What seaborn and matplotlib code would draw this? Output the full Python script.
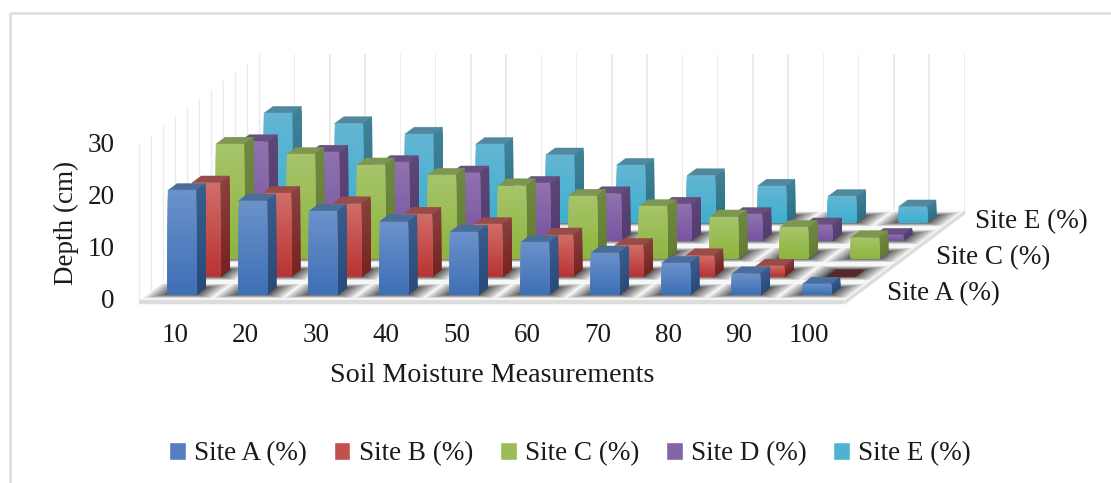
"""Soil moisture by site, Excel style 3D column chart drawn with mplot3d."""

import matplotlib
matplotlib.use("Agg")
import matplotlib.pyplot as plt
import numpy as np
import seaborn as sns
from matplotlib.lines import Line2D
from matplotlib.patches import Patch
from mpl_toolkits.mplot3d.art3d import Poly3DCollection

measurements = [10, 20, 30, 40, 50, 60, 70, 80, 90, 100]
site_names = ["Site A (%)", "Site B (%)", "Site C (%)", "Site D (%)", "Site E (%)"]
site_a = [20, 18, 16, 14, 12, 10, 8, 6, 4, 2]
site_b = [18, 16, 14, 12, 10, 8, 6, 4, 2, 0]
site_c = [22, 20, 18, 16, 14, 12, 10, 8, 6, 4]
site_d = [19, 17, 15, 13, 11, 9, 7, 5, 3, 1]
site_e = [21, 19, 17, 15, 13, 11, 9, 7, 5, 3]
depth_ticks = [0, 10, 20, 30]

# face colours per site: front (top, bottom), side (top, bottom), cap
FACE_COLORS = [
    ("#6b91ca", "#3e70b6", "#3a5c8c", "#284b7a", "#4a6e9c"),
    ("#d06c68", "#b93533", "#88403d", "#772422", "#984b48"),
    ("#a6c46a", "#8eb53e", "#6f8840", "#647d33", "#7d9651"),
    ("#8f72af", "#7955a0", "#5c4676", "#533c6e", "#674f82"),
    ("#63b5d3", "#3eafcf", "#3f8197", "#2d7187", "#50899f"),
]
FONT = "Liberation Serif"
TEXT = "#1a1a1a"
BAR_W = 0.2
BAR_D = 0.19
W, H = 1111, 483

sns.set_theme(style="white")
plt.rcParams["font.family"] = FONT

fig = plt.figure(figsize=(W / 100, H / 100), dpi=100)
ax = fig.add_axes([0, 0, 1, 1], projection="3d", computed_zorder=False)
ax.set_axis_off()

# oblique projection straight onto pixel coordinates, no perspective
# third row is only the paint order inside one collection
proj = np.array([
    [70.5, 24.0, 0.0, 186.7],
    [0.0, -18.0, -5.2, 291.0],
    [-0.01, 1.0, 0.01, 0.0],
    [0.0, 0.0, 0.0, 1.0],
])
ax.get_proj = lambda: proj
ax.apply_aspect = lambda position=None: None
ax.viewLim.intervalx = (0, W)
ax.viewLim.intervaly = (H, 0)


def add_polys(polys, colors, zorder, lw=0.3):
    coll = Poly3DCollection(polys, facecolors=colors, edgecolors=colors,
                            linewidths=lw, zorder=zorder)
    ax.add_collection3d(coll, autolim=False)


def label_3d(x, y, z, text, dx=0, dy=0, **kwargs):
    # same projection as the columns, but a plain figure text
    px, py = (proj @ np.array([x, y, z, 1.0]))[:2]
    fig.text((px + dx) / W, 1 - (py + dy) / H, text, va="center",
             fontsize=label_size, color=TEXT, **kwargs)


def draw_floor():
    n_col = len(measurements)
    n_row = len(site_names)
    x0, x1 = -0.5, n_col - 0.5
    y0, y1 = -0.5, n_row - 0.5
    top = 30

    # walls, only the thin grey verticals
    walls = []
    for x in np.arange(x0, x1 + 0.01, 0.5):
        walls.append([(x - 0.011, y1, 0), (x + 0.011, y1, 0), (x + 0.011, y1, top), (x - 0.011, y1, top)])
    for y in np.arange(y0, y1 + 0.01, 0.5):
        walls.append([(x0, y - 0.03, 0), (x0, y + 0.03, 0), (x0, y + 0.03, top), (x0, y - 0.03, top)])
    add_polys(walls, ["#ebebeb"] * len(walls), 6, lw=0)

    # floor slab
    add_polys([[(x0, y0, 0), (x1, y0, 0), (x1, y1, 0), (x0, y1, 0)]], ["#f7f7f7"], 2)
    add_polys([[(x0, y0, 0), (x1, y0, 0), (x1, y0, -0.7), (x0, y0, -0.7)]], ["#dcdcdc"], 2)
    add_polys([[(x1, y0, 0), (x1, y1, 0), (x1, y1, -0.7), (x1, y0, -0.7)]], ["#dcdcdc"], 2)

    # soft shadow round each foot, built from nested rectangles
    polys = []
    for row in range(n_row):
        for col in range(n_col):
            for grow in np.linspace(0, 1, 14) ** 1.7:
                hw = BAR_W + grow * 0.28
                hd = BAR_D + grow * 0.2
                polys.append([(col - hw, row - hd, 0), (col + hw, row - hd, 0),
                              (col + hw, row + hd, 0), (col - hw, row + hd, 0)])
    add_polys(polys, [(0, 0, 0, 0.085)] * len(polys), 3, lw=0)

    # zero height columns only leave a dark foot on the floor
    for row, values in enumerate(all_sites):
        for col, value in enumerate(values):
            if value == 0:
                add_polys([[(col - BAR_W, row - BAR_D, 0), (col + BAR_W, row - BAR_D, 0),
                            (col + BAR_W, row + BAR_D, 0), (col - BAR_W, row + BAR_D, 0)]],
                          ["#5a2626"], 4)

    # pale floor grid on top of the shadows
    for x in np.arange(x0, x1 + 0.01, 0.5):
        ax.plot([x, x], [y0, y1], [0, 0], color="#f5f5f5", lw=1.1, zorder=5)
    for y in np.arange(y0, y1 + 0.01, 0.5):
        ax.plot([x0, x1], [y, y], [0, 0], color="#f5f5f5", lw=1.1, zorder=5)


def draw_columns(row, values, colors, zorder):
    front_hi, front_lo, side_hi, side_lo, cap = colors
    steps = 24
    front_shades = sns.blend_palette([front_hi, front_lo], steps)
    side_shades = sns.blend_palette([side_hi, side_lo], steps)
    polys, face = [], []
    for col, value in enumerate(values):
        if value == 0:
            continue
        xa, xb = col - BAR_W, col + BAR_W
        ya, yb = row - BAR_D, row + BAR_D
        # every band runs down to the floor and the next one paints over it, no seams
        levels = np.linspace(value, 0, steps + 1)
        for k in range(steps):
            hi = levels[k]
            polys.append([(xa, ya, hi), (xb, ya, hi), (xb, ya, 0), (xa, ya, 0)])
            face.append(front_shades[k])
            polys.append([(xb, ya, hi), (xb, yb, hi), (xb, yb, 0), (xb, ya, 0)])
            face.append(side_shades[k])
        polys.append([(xa, ya, value), (xb, ya, value), (xb, yb, value), (xa, yb, value)])
        face.append(cap)
    add_polys(polys, face, zorder)


all_sites = [site_a, site_b, site_c, site_d, site_e]
label_size = 19.5

draw_floor()
# back rows first so the front rows cover them
for row in reversed(range(len(all_sites))):
    draw_columns(row, all_sites[row], FACE_COLORS[row], 10 + (4 - row))

for tick in depth_ticks:
    label_3d(-0.5, -0.5, tick, str(tick), dx=-25, dy=2, ha="right")
for col, value in enumerate(measurements):
    label_3d(col, -0.5, 0, str(value), dy=36, ha="center")
for row, dx in zip([0, 2, 4], [31, 32, 23]):
    label_3d(9.5, row, 0, site_names[row], dx=dx, dy=3, ha="left")

fig.text(66 / W, 1 - 223 / H, "Depth (cm)", rotation=90, ha="center", va="center",
         fontsize=label_size, color=TEXT)
fig.text(492 / W, 1 - 375 / H, "Soil Moisture Measurements", ha="center", va="center",
         fontsize=20.2, color=TEXT)

handles = [Patch(facecolor=sns.blend_palette(c[:2], 3)[1], label=name)
           for c, name in zip(FACE_COLORS, site_names)]
fig.legend(handles=handles, loc="center", bbox_to_anchor=(570 / W, 1 - 454 / H), ncol=5,
           frameon=False, fontsize=label_size, handlelength=0.62, handleheight=0.62,
           handletextpad=0.3, columnspacing=0.99, labelcolor=TEXT)

# chart area frame, runs off the bottom of the image
fig.add_artist(Line2D([9.5 / W, 9.5 / W, 1], [0, 1 - 12.5 / H, 1 - 12.5 / H],
                      color="#dcdcdc", lw=1.8))

fig.savefig("out.png", dpi=100)
